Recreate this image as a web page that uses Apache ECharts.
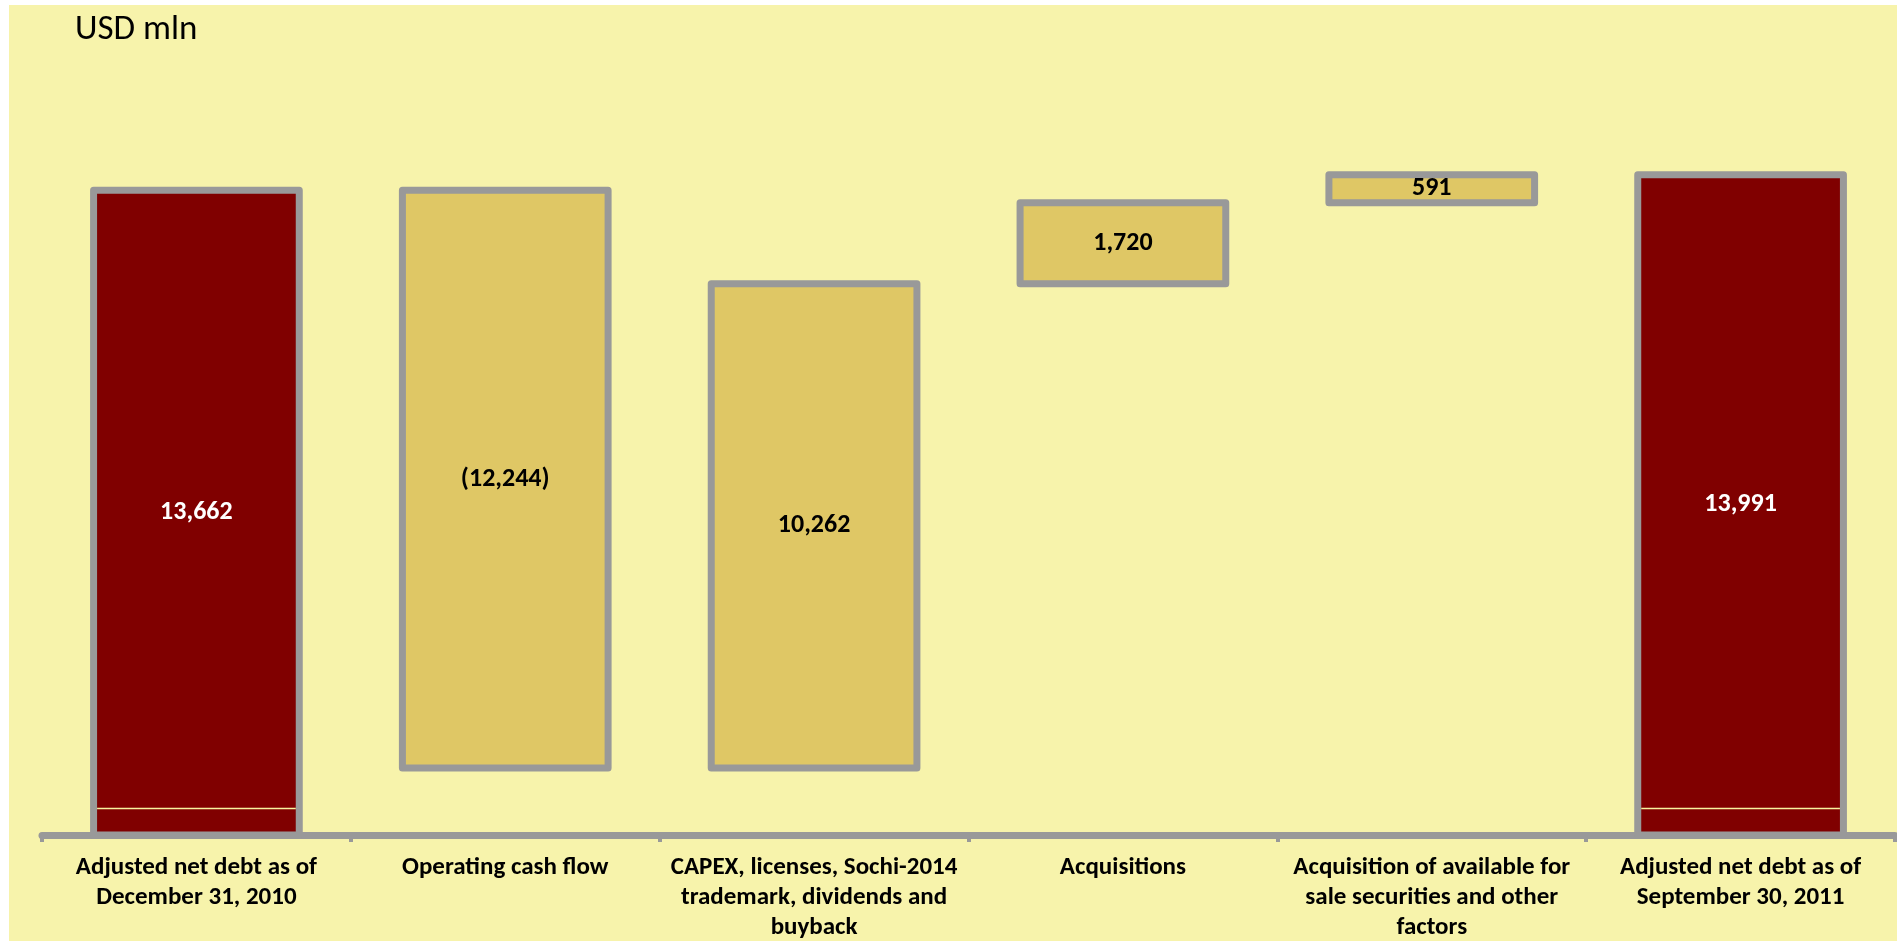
<!DOCTYPE html>
<html>
<head>
<meta charset="utf-8">
<script src="https://cdn.jsdelivr.net/npm/echarts@6/dist/echarts.min.js"></script>
<style>
  html, body { margin: 0; padding: 0; background: #ffffff; }
  #chart { position: absolute; left: 9px; top: 5px; width: 1888px; height: 936px; }
</style>
</head>
<body>
<div id="chart"></div>
<script>
// Net debt bridge, USD mln
const categories = [
  'Adjusted net debt as of\nDecember 31, 2010',
  'Operating cash flow',
  'CAPEX, licenses, Sochi-2014\ntrademark, dividends and\nbuyback',
  'Acquisitions',
  'Acquisition of available for\nsale securities and other\nfactors',
  'Adjusted net debt as of\nSeptember 30, 2011'
];
const changes = [13662, -12244, 10262, 1720, 591, 13991];
const isTotal = [true, false, false, false, false, true];
// level of the thin divider inside the total columns
const dividerValue = 560;

const FONT = 'Carlito, Calibri, Lato, sans-serif';
const GOLD = '#DFC765';
const DARK_RED = '#800000';
const FRAME = '#999999';
const BG = '#F7F3AB';

// floating segments: [index, bottom, top, change, total flag]
let running = 0;
const rows = changes.map((v, i) => {
  if (isTotal[i]) {
    running = v;
    return [i, 0, v, v, 1];
  }
  const start = running;
  const end = running + v;
  running = end;
  return [i, Math.min(start, end), Math.max(start, end), v, 0];
});

function fmt(v) {
  const s = Math.abs(v).toLocaleString('en-US');
  return v < 0 ? '(' + s + ')' : s;
}

const chart = echarts.init(document.getElementById('chart'), null, { renderer: 'canvas' });

chart.setOption({
  backgroundColor: BG,
  animation: false,
  title: {
    text: 'USD mln',
    left: 61,
    top: 3,
    textStyle: { fontFamily: FONT, fontSize: 35, fontWeight: 'normal', color: '#000' }
  },
  grid: { left: 33, right: 2, top: 75, bottom: 106, outerBoundsMode: 'none', containLabel: false },
  xAxis: {
    type: 'category',
    data: categories,
    axisLine: { lineStyle: { color: FRAME, width: 7 } },
    axisTick: { show: true, length: 7, lineStyle: { color: FRAME, width: 4 } },
    axisLabel: {
      interval: 0,
      margin: 18,
      color: '#000',
      fontFamily: FONT,
      fontWeight: 'bold',
      fontSize: 25,
      lineHeight: 30,
      align: 'center'
    }
  },
  yAxis: {
    type: 'value',
    min: 0,
    max: 16000,
    show: false,
    splitLine: { show: false }
  },
  series: [{
    type: 'custom',
    data: rows,
    encode: { x: 0, y: [1, 2] },
    renderItem: function (params, api) {
      const i = api.value(0);
      const lo = api.coord([i, api.value(1)]);
      const hi = api.coord([i, api.value(2)]);
      const w = api.size([1, 0])[0] * 0.666;
      const x = lo[0] - w / 2;
      const total = api.value(4) === 1;
      const children = [{
        type: 'rect',
        shape: { x: x, y: hi[1], width: w, height: lo[1] - hi[1] },
        style: { fill: total ? DARK_RED : GOLD, stroke: FRAME, lineWidth: 7, lineJoin: 'round' }
      }];
      if (total) {
        const dy = api.coord([i, dividerValue])[1];
        children.push({
          type: 'line',
          shape: { x1: x + 3.5, y1: dy, x2: x + w - 3.5, y2: dy },
          style: { stroke: '#F7F3A0', lineWidth: 1.5 }
        });
      }
      children.push({
        type: 'text',
        style: {
          text: fmt(api.value(3)),
          x: lo[0],
          y: (lo[1] + hi[1]) / 2,
          align: 'center',
          verticalAlign: 'middle',
          fill: total ? '#ffffff' : '#000000',
          fontFamily: FONT,
          fontWeight: 'bold',
          fontSize: 26
        }
      });
      return { type: 'group', children: children };
    }
  }]
});
</script>
</body>
</html>
